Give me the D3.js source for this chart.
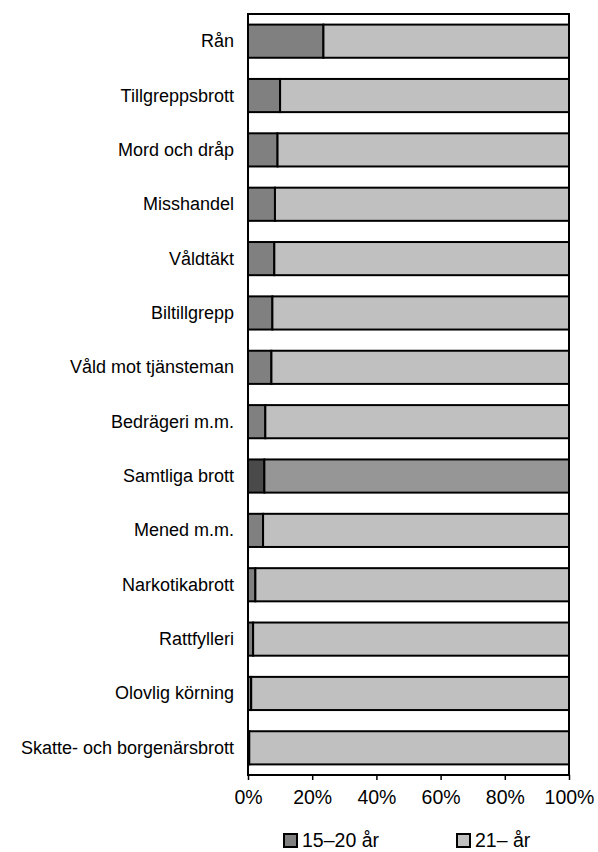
<!DOCTYPE html>
<html>
<head>
<meta charset="utf-8">
<script src="https://cdn.jsdelivr.net/npm/d3@7"></script>
<style>
  html, body { margin: 0; padding: 0; background: #fff; }
  svg { display: block; font-family: "Liberation Sans", Arial, sans-serif; }
</style>
</head>
<body>
<svg id="chart" width="598" height="852"></svg>
<script>
// Offence categories, top to bottom
const categories = [
  "Rån", "Tillgreppsbrott", "Mord och dråp", "Misshandel", "Våldtäkt",
  "Biltillgrepp", "Våld mot tjänsteman", "Bedrägeri m.m.", "Samtliga brott",
  "Mened m.m.", "Narkotikabrott", "Rattfylleri", "Olovlig körning",
  "Skatte- och borgenärsbrott"
];
// Share (%) of suspects aged 15–20
const young = [23.5, 10, 9.2, 8.4, 8.2, 7.6, 7.3, 5.4, 5.1, 4.7, 2.3, 1.6, 1.0, 0.4];
// Share (%) of suspects aged 21 and over
const adult = young.map(v => 100 - v);
const seriesNames = ["15–20 år", "21– år"];
const xTicks = [0, 20, 40, 60, 80, 100];
const highlight = "Samtliga brott";

const colors = { normal: ["#808080", "#c0c0c0"], total: ["#4a4a4a", "#969696"] };

const svg = d3.select("#chart");
const m = { left: 248, right: 569, top: 14, bottom: 775 };

const x = d3.scaleLinear().domain([0, 100]).range([m.left, m.right]);
const y = d3.scaleBand().domain(categories).range([m.top, m.bottom])
  .paddingInner(0.39).paddingOuter(0.195);

const rows = categories.map((c, i) => ({ c, vals: [young[i], adult[i]] }));

// Stacked bars
const g = svg.append("g");
rows.forEach(r => {
  let acc = 0;
  const pal = r.c === highlight ? colors.total : colors.normal;
  r.vals.forEach((v, k) => {
    g.append("rect")
      .attr("x", x(acc))
      .attr("y", y(r.c))
      .attr("width", x(acc + v) - x(acc))
      .attr("height", y.bandwidth())
      .attr("fill", pal[k])
      .attr("stroke", "#000")
      .attr("stroke-width", 2);
    acc += v;
  });
});

// Plot frame
svg.append("rect")
  .attr("x", m.left).attr("y", m.top)
  .attr("width", m.right - m.left).attr("height", m.bottom - m.top)
  .attr("fill", "none").attr("stroke", "#000").attr("stroke-width", 2);

// Category labels
svg.append("g").selectAll("text").data(categories).join("text")
  .attr("x", m.left - 14)
  .attr("y", d => y(d) + y.bandwidth() / 2)
  .attr("text-anchor", "end")
  .attr("dominant-baseline", "central")
  .attr("font-size", 18)
  .attr("fill", "#000")
  .text(d => d);

// X axis
const xAxis = d3.axisBottom(x).tickValues(xTicks).tickFormat(d => d + "%")
  .tickSize(5).tickPadding(10);
const ax = svg.append("g").attr("transform", `translate(0,${m.bottom})`).call(xAxis);
ax.select(".domain").remove();
ax.selectAll(".tick line").attr("stroke", "#000").attr("stroke-width", 1.5);
ax.selectAll(".tick text").attr("font-size", 19.5).attr("fill", "#000")
  .attr("font-family", "Liberation Sans, Arial, sans-serif");

// Legend
const legendX = [284, 457];
const lg = svg.append("g");
seriesNames.forEach((s, k) => {
  lg.append("rect")
    .attr("x", legendX[k]).attr("y", 834)
    .attr("width", 13).attr("height", 13)
    .attr("fill", colors.normal[k]).attr("stroke", "#000").attr("stroke-width", 2);
  lg.append("text")
    .attr("x", legendX[k] + 18).attr("y", 847)
    .attr("font-size", 19.5).attr("fill", "#000")
    .text(s);
});
</script>
</body>
</html>
